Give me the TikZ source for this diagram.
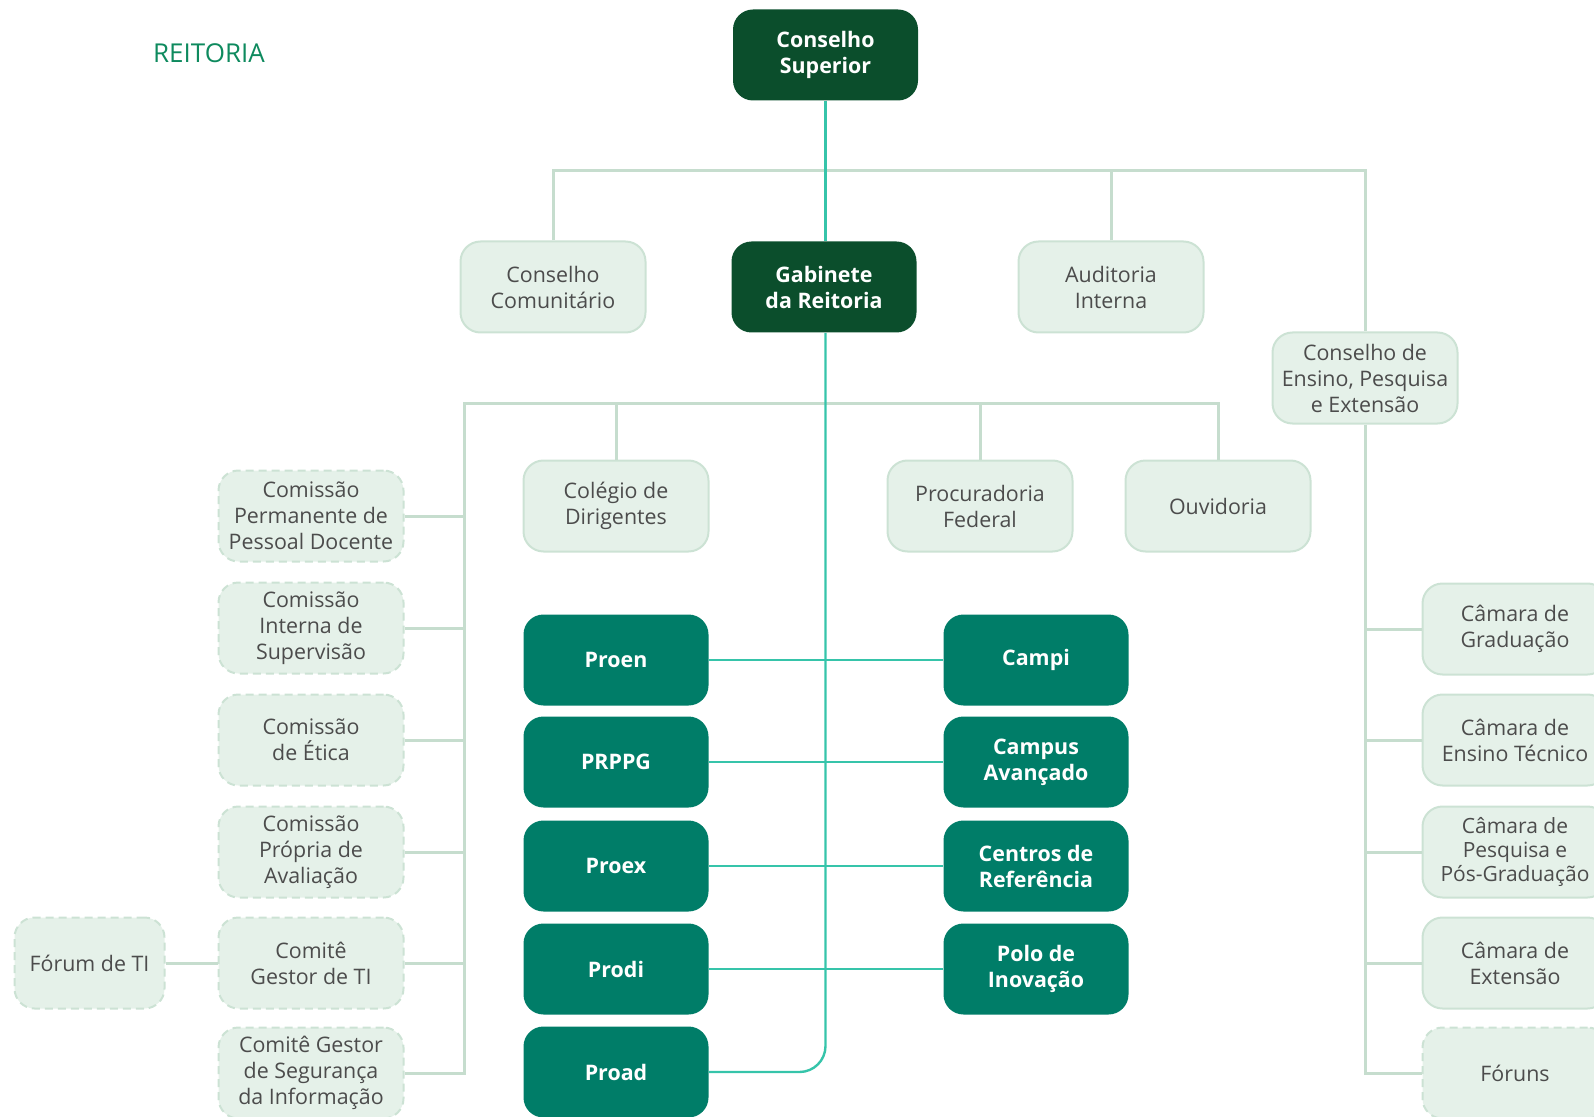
\documentclass[tikz,border=0pt]{standalone}
\usepackage{fontspec}
\setmainfont{Open Sans}

\definecolor{verdeescuro}{HTML}{0B4E2C}
\definecolor{verdemedio}{HTML}{007D68}
\definecolor{verdeclaro}{HTML}{E5F1E9}
\definecolor{bordaclara}{HTML}{CCE2D4}
\definecolor{linhaclara}{HTML}{C6DDCE}
\definecolor{linhaagua}{HTML}{36C4AA}
\definecolor{textocinza}{HTML}{4C4C4C}
\definecolor{verdetitulo}{HTML}{0E8A5E}

\tikzset{
  caixa/.style={rounded corners=10pt, minimum width=92.5pt, minimum height=45.5pt,
    align=center, inner sep=2pt, font=\fontsize{10.7}{13}\selectfont},
  escura/.style={caixa, fill=verdeescuro, text=white, font=\bfseries\fontsize{10.7}{13}\selectfont},
  media/.style={caixa, fill=verdemedio, text=white, font=\bfseries\fontsize{10.7}{13}\selectfont},
  clara/.style={caixa, fill=verdeclaro, draw=bordaclara, line width=1pt, text=textocinza},
  tracejada/.style={clara, dash pattern=on 4pt off 2.5pt},
  ligacao/.style={draw=linhaclara, line width=1.5pt},
  ligacaoagua/.style={draw=linhaagua, line width=1.2pt},
}

\begin{document}
\begin{tikzpicture}[x=0.5pt, y=-0.5pt]
        \useasboundingbox (0,0) rectangle (1594,1117);
        \clip (0,0) rectangle (1594,1117);

        \node[text=verdetitulo, font=\fontsize{13}{15}\selectfont] (reitoria) at (209,53) {REITORIA};

        % topo
        \node[escura] (cs) at (825.5,55) {Conselho\\Superior};
        \node[escura] (gab) at (824,287) {Gabinete\\da Reitoria};
        \node[clara] (cc) at (553,287) {Conselho\\Comunitário};
        \node[clara] (aud) at (1111,287) {Auditoria\\Interna};
        \node[clara] (cepe) at (1365,378) {Conselho de\\Ensino, Pesquisa\\e Extensão};

        \node[clara] (col) at (616,506) {Colégio de\\Dirigentes};
        \node[clara] (proc) at (980,506) {Procuradoria\\Federal};
        \node[clara] (ouv) at (1218,506) {Ouvidoria};

        % comissoes
        \node[tracejada] (cppd) at (311,516) {Comissão\\Permanente de\\Pessoal Docente};
        \node[tracejada] (cis) at (311,628) {Comissão\\Interna de\\Supervisão};
        \node[tracejada] (cet) at (311,740) {Comissão\\de Ética};
        \node[tracejada] (cpa) at (311,852) {Comissão\\Própria de\\Avaliação};
        \node[tracejada] (cgti) at (311,963) {Comitê\\Gestor de TI};
        \node[tracejada] (cgsi) at (311,1073) {Comitê Gestor\\de Segurança\\da Informação};
        \node[tracejada, minimum width=75pt] (forum) at (89.5,963) {Fórum de TI};

        % pro-reitorias
        \node[media] (proen) at (616,660) {Proen};
        \node[media] (prppg) at (616,762) {PRPPG};
        \node[media] (proex) at (616,866) {Proex};
        \node[media] (prodi) at (616,969) {Prodi};
        \node[media] (proad) at (616,1072) {Proad};

        \node[media] (campi) at (1036,660) {Campi};
        \node[media] (avanc) at (1036,762) {Campus\\Avançado};
        \node[media] (centros) at (1036,866) {Centros de\\Referência};
        \node[media] (polo) at (1036,969) {Polo de\\Inovação};

        % camaras
        \node[clara] (cgrad) at (1515,629) {Câmara de\\Graduação};
        \node[clara] (ctec) at (1515,740) {Câmara de\\Ensino Técnico};
        \node[clara, font=\fontsize{10.5}{12}\selectfont] (cpesq) at (1515,852) {Câmara de\\Pesquisa e\\Pós-Graduação};
        \node[clara] (cext) at (1515,963) {Câmara de\\Extensão};
        \node[tracejada] (foruns) at (1515,1073) {Fóruns};

        % ligacoes claras
        \coordinate (barra1) at (825.5,171);
        \coordinate (barra2) at (825.5,403.6);
        \coordinate (esq) at (464.6,403.6);

        \draw[ligacao] (cc.north) |- (barra1) -| (cepe.north);
        \draw[ligacao] (aud.north) |- (barra1);
        \draw[ligacao] (ouv.north) |- (esq) |- (cgsi.east);
        \draw[ligacao] (col.north) |- (barra2);
        \draw[ligacao] (proc.north) |- (barra2);
        \foreach \n in {cppd,cis,cet,cpa,cgti}
          \draw[ligacao] (\n.east) -- (\n.east -| esq);
        \draw[ligacao] (forum.east) -- (cgti.west);

        \draw[ligacao] (cepe.south) |- (foruns.west);
        \foreach \n in {cgrad,ctec,cpesq,cext}
          \draw[ligacao] (\n.west) -- (\n.west -| cepe.south);

        % ligacoes agua
        \draw[ligacaoagua] (cs.south) -- (barra1 |- gab.north);
        \draw[ligacaoagua, rounded corners=13pt] (barra1 |- gab.south) |- (proad.east);
        \draw[ligacaoagua] (proen.east) -- (campi.west);
        \draw[ligacaoagua] (prppg.east) -- (avanc.west);
        \draw[ligacaoagua] (proex.east) -- (centros.west);
        \draw[ligacaoagua] (prodi.east) -- (polo.west);

    \end{tikzpicture}
\end{document}
